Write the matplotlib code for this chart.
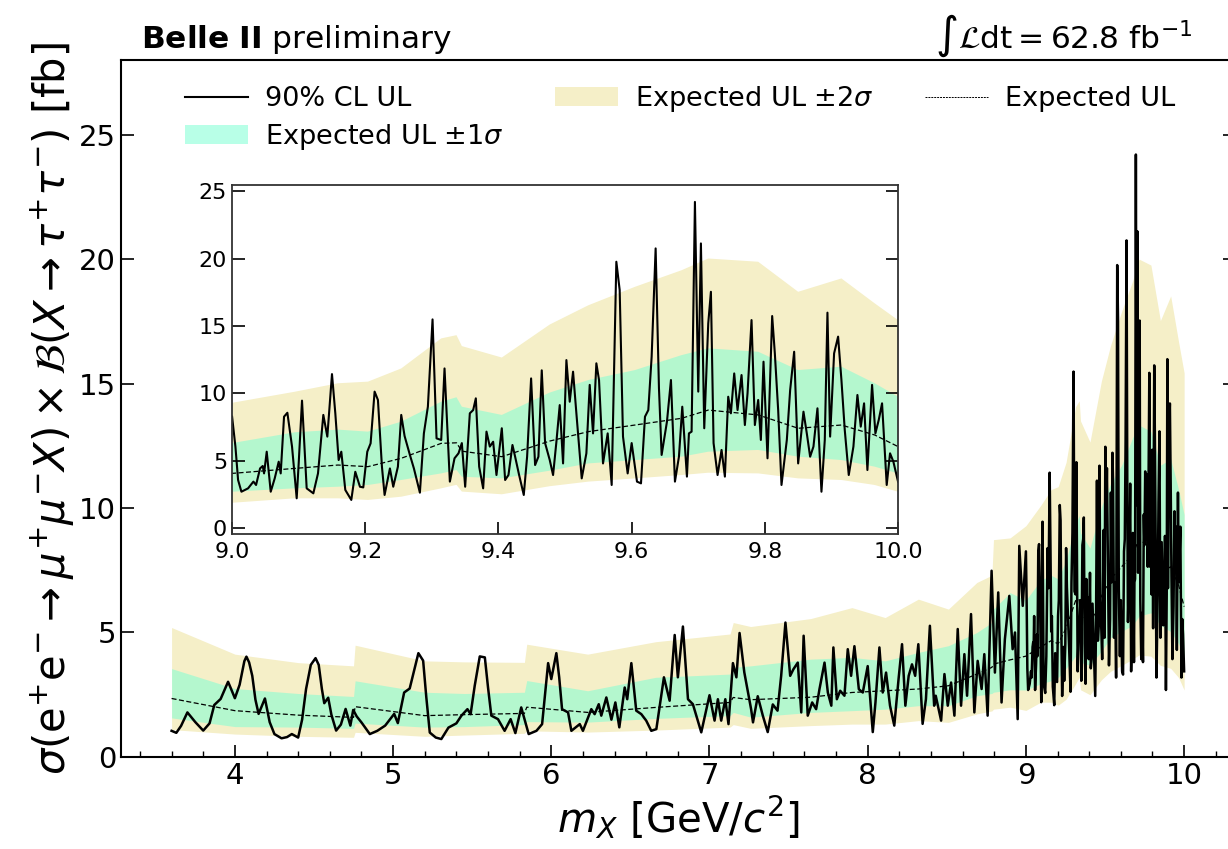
import numpy as np
import matplotlib
matplotlib.use("Agg")
from matplotlib import pyplot as plt
from matplotlib.lines import Line2D
from matplotlib.patches import Patch

mass_low = [3.60, 3.63, 3.66, 3.70, 3.75, 3.80, 3.84, 3.87, 3.91, 3.957, 3.975, 4.00, 4.03, 4.06, 4.073,
            4.09, 4.11, 4.13, 4.15, 4.19, 4.22, 4.25, 4.295, 4.33, 4.36, 4.40, 4.425, 4.45, 4.48, 4.51,
            4.53, 4.55, 4.565, 4.59, 4.61, 4.64, 4.67, 4.70, 4.73, 4.748, 4.77, 4.80, 4.853, 4.90, 4.95,
            5.007, 5.03, 5.07, 5.105, 5.13, 5.16, 5.19, 5.21, 5.232, 5.27, 5.305, 5.35, 5.40, 5.432, 5.47,
            5.49, 5.516, 5.548, 5.58, 5.60, 5.621, 5.663, 5.705, 5.743, 5.773, 5.81, 5.857, 5.906, 5.942,
            5.98, 6.00, 6.032, 6.05, 6.068, 6.106, 6.127, 6.18, 6.20, 6.253, 6.274, 6.30, 6.316, 6.348,
            6.38, 6.405, 6.43, 6.464, 6.48, 6.506, 6.537, 6.569, 6.60, 6.632, 6.664, 6.712, 6.748, 6.78,
            6.80, 6.832, 6.864, 6.895, 6.948, 7.00, 7.032, 7.053, 7.074, 7.10, 7.12, 7.148, 7.17, 7.19,
            7.22, 7.263, 7.275, 7.305, 7.337, 7.368, 7.40, 7.43, 7.453, 7.48, 7.51, 7.53, 7.558, 7.58,
            7.595, 7.621, 7.649, 7.674, 7.695, 7.727, 7.748, 7.77, 7.783, 7.805, 7.826, 7.853, 7.874,
            7.895, 7.916, 7.944, 7.969, 8.00, 8.032, 8.049, 8.074, 8.095, 8.116, 8.141, 8.168, 8.195,
            8.217, 8.238, 8.259, 8.28, 8.30, 8.32, 8.347, 8.368, 8.393, 8.42, 8.43, 8.464, 8.485, 8.506,
            8.527, 8.548, 8.569, 8.59, 8.611, 8.628, 8.653, 8.674, 8.695, 8.72, 8.737, 8.758, 8.783,
            8.804, 8.825, 8.846, 8.867, 8.895, 8.916, 8.931, 8.948, 8.958, 8.98]
ul_low = [1.05, 0.97, 1.25, 1.79, 1.40, 1.06, 1.35, 2.09, 2.33, 3.02, 2.75, 2.36, 2.90, 3.85, 4.03,
          3.80, 3.26, 2.30, 1.73, 2.35, 1.40, 0.92, 0.75, 0.80, 0.92, 0.78, 1.50, 2.73, 3.70, 3.97,
          3.70, 2.73, 2.16, 2.38, 1.70, 1.06, 1.30, 1.93, 1.26, 1.89, 1.63, 1.39, 0.92, 1.05, 1.26,
          1.73, 1.36, 2.59, 2.75, 3.40, 4.17, 3.87, 2.40, 0.98, 0.78, 0.72, 1.18, 1.35, 1.66, 1.92,
          1.72, 2.86, 4.04, 4.00, 2.80, 1.66, 1.52, 1.05, 1.52, 0.96, 1.99, 0.92, 1.05, 1.32,
          3.77, 3.13, 4.17, 3.20, 1.92, 1.79, 1.05, 1.32, 1.05, 1.92, 1.72, 2.12, 1.66, 2.39,
          1.50, 2.19, 1.19, 2.79, 2.32, 3.77, 1.86, 1.72, 1.46, 1.05, 1.12, 3.20, 2.26, 4.90,
          3.20, 5.24, 2.32, 2.12, 0.99, 2.48, 1.46, 2.32, 1.46, 2.32, 1.32, 3.77, 3.20, 4.98,
          3.40, 1.92, 1.39, 2.44, 1.66, 1.00, 2.11, 1.86, 3.26, 5.40, 3.26, 3.52, 3.79, 1.79,
          4.87, 1.66, 2.19, 1.92, 2.72, 3.79, 2.59, 2.06, 4.40, 2.32, 2.66, 2.46, 4.33,
          3.26, 4.45, 2.72, 2.59, 3.65, 1.00, 2.19, 4.40, 2.59, 3.39, 2.06, 1.26, 3.13,
          4.53, 2.06, 3.26, 3.72, 3.26, 4.53, 1.33, 2.32, 5.27, 2.06, 2.46, 1.46, 3.33, 2.06,
          2.99, 1.66, 5.14, 2.06, 4.13, 2.46, 5.74, 1.79, 3.86, 2.73, 4.13, 1.66, 7.48,
          3.39, 6.61, 2.19, 4.73, 6.47, 4.33, 5.00, 1.52, 8.48, 6.07]

mass_high = [9.000, 9.005, 9.009, 9.014, 9.024, 9.032, 9.036, 9.042, 9.046, 9.048, 9.052, 9.058, 9.064,
             9.070, 9.073, 9.078, 9.083, 9.090, 9.097, 9.100, 9.105, 9.112, 9.122, 9.129, 9.137, 9.143,
             9.150, 9.155, 9.160, 9.164, 9.170, 9.179, 9.185, 9.192, 9.197, 9.203, 9.208, 9.214, 9.219,
             9.225, 9.229, 9.237, 9.242, 9.249, 9.254, 9.259, 9.267, 9.273, 9.282, 9.288, 9.294, 9.301,
             9.307, 9.314, 9.319, 9.327, 9.334, 9.340, 9.345, 9.350, 9.357, 9.362, 9.366, 9.371, 9.377,
             9.382, 9.387, 9.392, 9.397, 9.405, 9.410, 9.415, 9.421, 9.425, 9.431, 9.438, 9.443, 9.449,
             9.455, 9.460, 9.465, 9.470, 9.477, 9.482, 9.487, 9.492, 9.497, 9.502, 9.507, 9.512, 9.517,
             9.525, 9.532, 9.537, 9.542, 9.547, 9.551, 9.557, 9.564, 9.570, 9.577, 9.582, 9.587, 9.594,
             9.600, 9.608, 9.614, 9.620, 9.625, 9.630, 9.636, 9.641, 9.645, 9.653, 9.659, 9.665, 9.671,
             9.676, 9.683, 9.686, 9.690, 9.695, 9.700, 9.704, 9.709, 9.715, 9.719, 9.723, 9.729, 9.735,
             9.740, 9.745, 9.749, 9.754, 9.759, 9.765, 9.770, 9.774, 9.780, 9.785, 9.790, 9.794, 9.798,
             9.804, 9.811, 9.815, 9.820, 9.825, 9.833, 9.838, 9.844, 9.850, 9.858, 9.863, 9.868, 9.873,
             9.879, 9.885, 9.890, 9.894, 9.898, 9.904, 9.910, 9.915, 9.920, 9.926, 9.933, 9.939, 9.944,
             9.949, 9.954, 9.961, 9.966, 9.971, 9.976, 9.983, 9.988, 9.993, 10.000]
ul_high = [8.26, 6.04, 3.56, 2.69, 2.94, 3.44, 3.19, 4.42, 4.60, 4.05, 5.66, 2.69, 3.68,
           4.92, 4.05, 8.26, 8.55, 6.04, 2.20, 4.79, 9.45, 2.94, 2.57, 4.05, 8.39, 6.78,
           11.42, 8.51, 5.04, 5.66, 2.82, 2.08, 4.17, 3.06, 3.01, 5.66, 6.28, 10.12, 9.50,
           4.55, 2.45, 4.42, 3.06, 4.55, 8.39, 6.83, 5.42, 4.42, 2.62, 7.02, 9.00, 15.48,
           6.65, 6.53, 11.84, 3.44, 5.17, 5.54, 6.30, 3.06, 8.51, 8.75, 9.62, 4.55, 2.94,
           7.15, 6.04, 6.40, 3.93, 7.40, 3.56, 3.93, 6.16, 5.29, 3.93, 2.45, 5.29, 11.10,
           4.67, 5.29, 11.70, 6.30, 5.04, 3.93, 6.40, 9.12, 4.79, 12.46, 9.37, 11.60, 8.51,
           3.68, 5.54, 10.62, 7.02, 12.22, 10.98, 4.79, 7.02, 3.19, 19.76, 17.66, 6.78, 4.05,
           6.30, 3.44, 3.31, 8.26, 8.75, 12.70, 20.75, 10.37, 5.42, 7.89, 10.98, 3.44, 5.29,
           9.00, 3.81, 7.02, 7.15, 24.20, 10.12, 21.12, 7.40, 15.18, 17.53, 6.30, 3.93, 5.79,
           3.81, 9.74, 8.51, 11.47, 8.75, 11.35, 7.64, 9.99, 15.43, 7.64, 9.50, 6.53, 12.34,
           5.17, 15.73, 12.96, 8.75, 3.19, 6.53, 10.24, 13.08, 4.79, 8.63, 7.02, 5.29, 6.04,
           8.88, 2.69, 6.53, 15.98, 6.78, 12.96, 14.20, 10.98, 7.27, 3.93, 6.04, 9.87, 7.52,
           9.25, 4.30, 10.62, 7.02, 8.01, 9.25, 3.19, 5.54, 4.92, 3.44]

# expected UL and its bands
band_mass = [3.60, 4.00, 4.40, 4.75, 4.76, 5.20, 5.45, 5.83, 5.845, 6.23, 6.66, 7.13, 7.15, 7.26, 7.64,
             7.90, 8.11, 8.32, 8.51, 8.69, 8.785, 8.795, 8.90, 9.000, 9.094, 9.159, 9.204, 9.254, 9.314,
             9.337, 9.345, 9.405, 9.477, 9.535, 9.605, 9.675, 9.715, 9.790, 9.850, 9.915, 9.965, 10.000]
exp_m2 = [1.10, 0.92, 0.83, 0.79, 0.99, 0.83, 0.88, 0.95, 1.05, 1.00, 1.08, 1.20, 1.30, 1.15, 1.26,
          1.32, 1.32, 1.46, 1.39, 1.73, 1.85, 1.92, 2.00, 1.87, 2.20, 2.20, 2.08, 2.32, 2.94,
          3.20, 2.70, 2.50, 3.10, 3.44, 3.68, 3.93, 4.10, 4.05, 3.68, 3.56, 3.19, 2.69]
exp_m1 = [1.57, 1.22, 1.20, 1.15, 1.36, 1.20, 1.22, 1.30, 1.42, 1.40, 1.55, 1.66, 1.79, 1.60, 1.79,
          1.86, 1.92, 2.06, 2.06, 2.46, 2.55, 2.60, 2.70, 2.69, 2.94, 3.06, 3.19, 3.56, 4.05,
          4.30, 3.80, 3.68, 4.25, 4.79, 5.04, 5.29, 5.66, 5.79, 5.29, 5.04, 4.55, 4.05]
exp_med = [2.35, 1.86, 1.68, 1.59, 2.02, 1.66, 1.70, 1.75, 2.00, 1.79, 1.99, 2.19, 2.39, 2.30, 2.40,
           2.59, 2.66, 2.73, 2.86, 3.33, 3.60, 3.73, 3.90, 4.05, 4.42, 4.67, 4.55, 5.17, 6.28,
           6.32, 5.70, 5.29, 6.45, 7.15, 7.64, 8.14, 8.75, 8.39, 7.40, 7.64, 6.90, 6.04]
exp_p1 = [3.55, 2.75, 2.55, 2.43, 3.06, 2.60, 2.55, 2.60, 3.07, 2.66, 3.20, 3.33, 3.60, 3.66, 3.93,
          4.00, 3.86, 4.20, 4.47, 5.00, 5.40, 5.94, 6.60, 6.30, 7.10, 7.30, 7.15, 7.89, 9.37,
          9.70, 9.00, 8.39, 10.05, 10.98, 11.72, 12.83, 13.33, 13.08, 11.72, 11.97, 10.74, 9.74]
exp_p2 = [5.20, 4.13, 3.79, 3.66, 4.49, 3.86, 3.82, 3.80, 4.53, 4.13, 4.63, 4.94, 5.40, 5.24, 5.56,
          6.00, 5.60, 6.34, 5.94, 7.01, 7.30, 8.73, 8.80, 9.29, 10.11, 10.74, 10.86, 11.84, 14.07,
          14.31, 13.50, 12.65, 15.10, 16.53, 17.90, 19.13, 20.00, 19.76, 17.53, 18.52, 16.67, 15.43]

c_2sig = "#f5efc8"
c_1sig = "#7fffd4"

mass_all = mass_low + mass_high
ul_all = ul_low + ul_high

plt.rcParams["font.family"] = "DejaVu Sans"
plt.rcParams["mathtext.fontset"] = "dejavusans"

fig = plt.figure(figsize=(12.28, 8.49), dpi=100)
ax = fig.add_axes([0.0985, 0.1084, 0.907, 0.821])


def draw(a, lw_exp):
    a.fill_between(band_mass, exp_m2, exp_p2, color=c_2sig, lw=0)
    a.fill_between(band_mass, exp_m1, exp_p1, color=c_1sig, alpha=0.55, lw=0)
    a.plot(band_mass, exp_med, color="black", ls="--", lw=lw_exp, dashes=(4, 2))


draw(ax, 0.9)
ax.plot(mass_all, ul_all, color="black", lw=1.8)

ax.set_xlim(3.28, 10.32)
ax.set_ylim(0, 28)
ax.set_xticks([4, 5, 6, 7, 8, 9, 10])
ax.set_xticks(np.arange(3.4, 10.31, 0.2), minor=True)
ax.set_yticks([0, 5, 10, 15, 20, 25])
ax.tick_params(axis="both", which="major", direction="in", length=9, width=1.2,
               labelsize=21, right=True, top=False)
ax.tick_params(axis="x", which="minor", direction="in", length=4, width=1.0, top=False)
for s in ax.spines.values():
    s.set_linewidth(1.5)

ax.set_xlabel(r"$m_X$ [GeV/$c^2$]", fontsize=29, labelpad=3)
ax.set_ylabel(r"$\sigma(\mathrm{e^{+}e^{-}}\rightarrow\mu^{+}\mu^{-}X)\times\mathcal{B}(X\rightarrow\tau^{+}\tau^{-})$ [fb]",
              fontsize=30, labelpad=2)

ax.text(0.018, 1.017, r"$\mathbf{Belle\ II}$ preliminary", transform=ax.transAxes,
        fontsize=22.5, ha="left", va="baseline")
ax.text(0.962, 1.017, r"$\int\mathcal{L}\mathrm{dt} = 62.8\ \mathrm{fb}^{-1}$", transform=ax.transAxes,
        fontsize=22.5, ha="right", va="baseline")

handles = [Line2D([], [], color="black", lw=1.5),
           Patch(facecolor=c_1sig, alpha=0.55, lw=0),
           Patch(facecolor=c_2sig, lw=0),
           Line2D([], [], color="black", ls="--", lw=0.7, dashes=(2, 1))]
labels = ["90% CL UL", r"Expected UL $\pm 1\sigma$", r"Expected UL $\pm 2\sigma$", "Expected UL"]
ax.legend(handles, labels, loc="upper left", bbox_to_anchor=(0.036, 1.0), ncol=3,
          frameon=False, fontsize=19.5, handlelength=2.3, handletextpad=0.65,
          columnspacing=1.9, labelspacing=0.35)

# inset: 9 - 10 GeV
ins = fig.add_axes([0.189, 0.371, 0.5423, 0.411])
draw(ins, 0.9)
ins.plot(mass_high, ul_high, color="black", lw=1.5)
ins.set_xlim(9.0, 10.0)
ins.set_ylim(-0.45, 25.45)
ins.set_xticks([9.0, 9.2, 9.4, 9.6, 9.8, 10.0])
ins.set_yticks([0, 5, 10, 15, 20, 25])
ins.tick_params(axis="both", direction="in", length=9, width=1.2, labelsize=16, right=True)
ins.tick_params(axis="x", pad=6)
for s in ins.spines.values():
    s.set_linewidth(1.3)
    s.set_color("#333333")

fig.savefig("out.png", dpi=100)
